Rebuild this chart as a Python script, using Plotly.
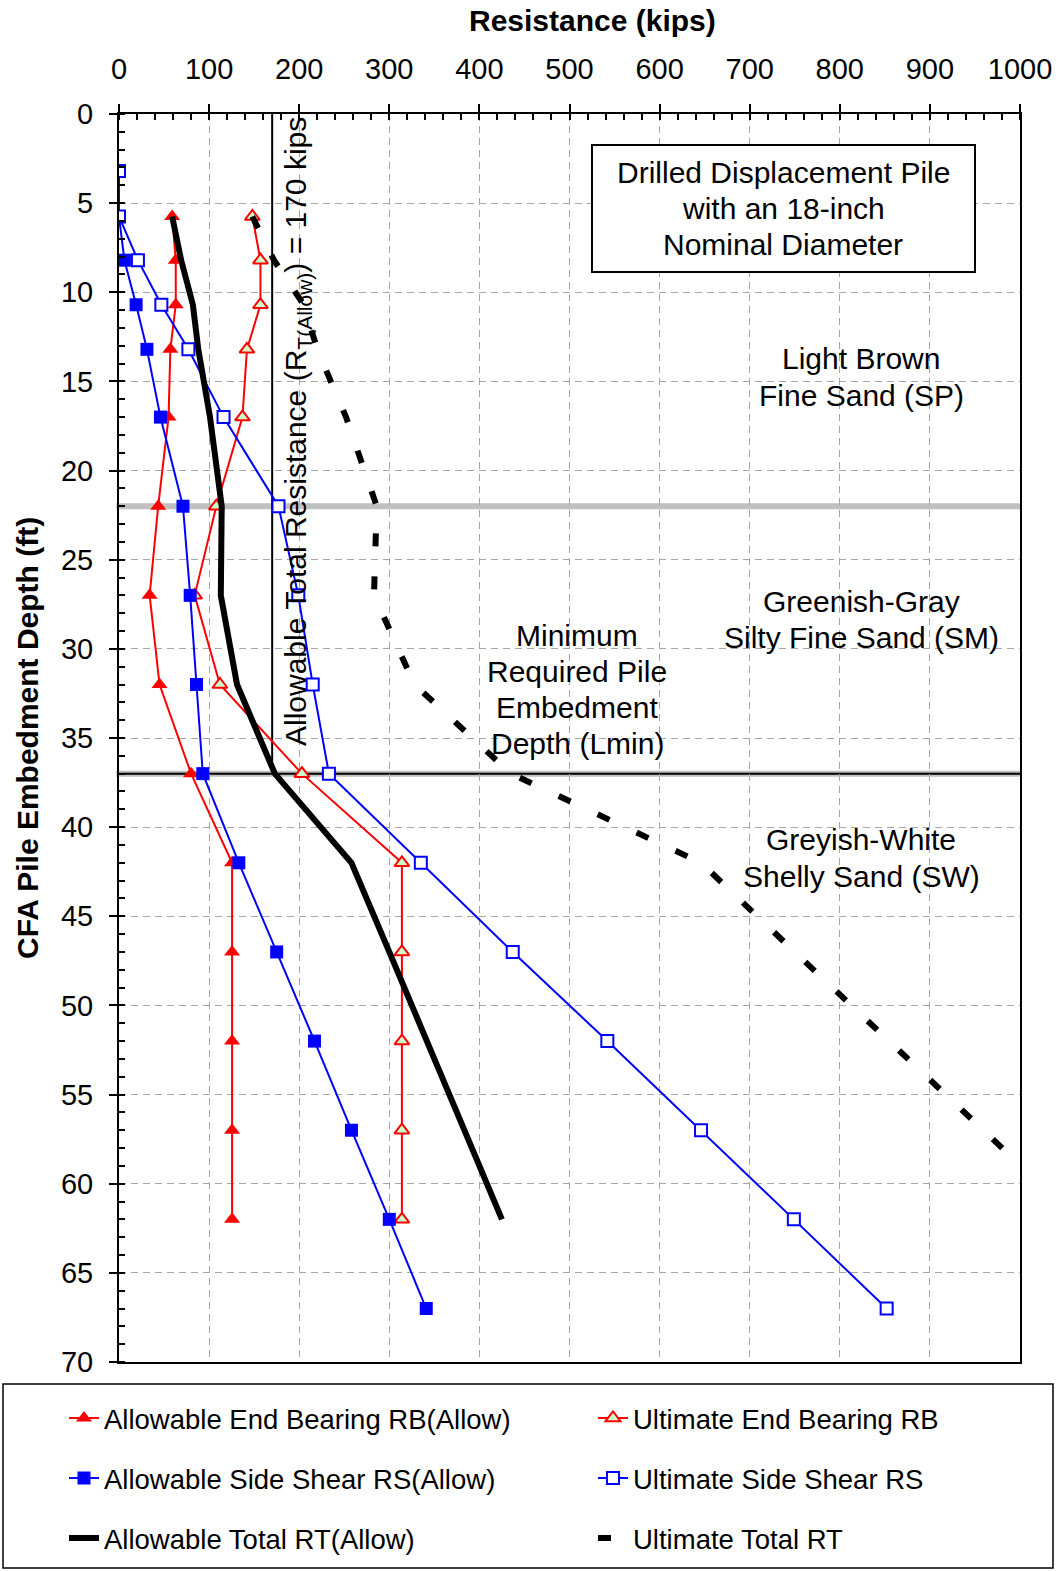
import plotly.graph_objects as go

# ---------------- data ----------------
depth_all = [3.2, 5.75, 8.2, 10.7, 13.2, 17, 22, 27, 32, 37, 42, 47, 52, 57, 62, 67]
depth_eb = [5.75, 8.2, 10.7, 13.2, 17, 22, 27, 32, 37, 42, 47, 52, 57, 62]

rb_allow = [59, 63, 63, 57, 55, 43.5, 34, 45, 80, 125.5, 125.5, 125.5, 125.5, 125.5]
rb_ult = [148, 157, 157, 142, 137, 108, 84, 112, 203, 314, 314, 314, 314, 314]
rs_allow = [0, 0, 6, 19, 31, 46, 71, 79, 86, 93, 133, 175, 217, 258, 300, 341]
rs_ult = [0, 0, 21, 47, 77, 116, 177, 199, 215, 233, 335, 437, 542, 646, 749, 852]
rt_allow = [59, 69, 82, 88, 101, 114, 113, 131, 173, 258, 300, 342, 383, 425]
rt_ult = [148, 172, 205, 220, 252, 286, 283, 328, 435, 646, 750, 855, 958, 1064]

allow_total_kips = 170
allow_line_depth = [0, 36.3]
layer_boundaries = [22, 37]

x_ticks = list(range(0, 1001, 100))
y_ticks = list(range(0, 71, 5))

FONT = "Arial, 'Liberation Sans', sans-serif"
W, H = 1061, 1571
ML, MR, MT, MB = 119, 41, 114, 209
PW, PH = W - ML - MR, H - MT - MB


def px_x(px):
    return (px - ML) / PW


def px_y(py):
    return (H - MB - py) / PH


def dx(px):  # pixel -> kips
    return (px - ML) / PW * 1000


def dy(py):  # pixel -> ft
    return (py - MT) / PH * 70


fig = go.Figure()

# series
fig.add_trace(go.Scatter(
    x=rb_allow, y=depth_eb, mode="lines+markers", name="Allowable End Bearing RB(Allow)",
    line=dict(color="#FF0000", width=2),
    marker=dict(symbol="triangle-up", size=14, color="#FF0000"),
    legend="legend"))
fig.add_trace(go.Scatter(
    x=rb_ult, y=depth_eb, mode="lines+markers", name="Ultimate End Bearing RB",
    line=dict(color="#FF0000", width=2),
    marker=dict(symbol="triangle-up", size=13, color="#CCFFCC",
                line=dict(color="#FF0000", width=2)),
    legend="legend2"))
fig.add_trace(go.Scatter(
    x=rs_allow, y=depth_all, mode="lines+markers", name="Allowable Side Shear RS(Allow)",
    line=dict(color="#0000FF", width=2),
    marker=dict(symbol="square", size=13, color="#0000FF"),
    legend="legend3"))
fig.add_trace(go.Scatter(
    x=rs_ult, y=depth_all, mode="lines+markers", name="Ultimate Side Shear RS",
    line=dict(color="#0000FF", width=2),
    marker=dict(symbol="square", size=12, color="white",
                line=dict(color="#0000FF", width=2)),
    legend="legend4"))
fig.add_trace(go.Scatter(
    x=rt_allow, y=depth_eb, mode="lines", name="Allowable Total RT(Allow)",
    line=dict(color="black", width=6),
    legend="legend5"))
fig.add_trace(go.Scatter(
    x=rt_ult, y=depth_eb, mode="lines", name="Ultimate Total RT",
    line=dict(color="black", width=6, dash="13px,30px"),
    legend="legend6"))

# layer boundary lines
shapes = []
for i, d in enumerate(layer_boundaries):
    shapes.append(dict(type="line", xref="paper", yref="y", x0=-0.003, x1=1,
                       y0=d, y1=d, line=dict(color="#C0C0C0", width=6), layer="between"))
shapes.append(dict(type="line", xref="paper", yref="y", x0=0, x1=1,
                   y0=layer_boundaries[1], y1=layer_boundaries[1],
                   line=dict(color="black", width=2), layer="between"))
# allowable total vertical line
shapes.append(dict(type="line", xref="x", yref="y", x0=allow_total_kips, x1=allow_total_kips,
                   y0=allow_line_depth[0], y1=allow_line_depth[1],
                   line=dict(color="black", width=2), layer="between"))
# info box
shapes.append(dict(type="rect", xref="x", yref="y", x0=dx(592), x1=dx(975), y0=dy(145), y1=dy(272),
                   line=dict(color="black", width=2), fillcolor="white", layer="between"))
# legend frame
shapes.append(dict(type="rect", xref="paper", yref="paper",
                   x0=px_x(3), x1=px_x(1053), y0=px_y(1568), y1=px_y(1384),
                   line=dict(color="black", width=1.5), fillcolor="rgba(0,0,0,0)"))

ann_font = dict(family=FONT, size=30, color="black")
annotations = []


def text_block(lines, cx, cy_list):
    for t, cy in zip(lines, cy_list):
        annotations.append(dict(x=dx(cx), y=dy(cy), xref="x", yref="y", showarrow=False,
                                xanchor="center", yanchor="middle", text=t, font=ann_font))


text_block(["Drilled Displacement Pile", "with an 18-inch", "Nominal Diameter"], 783, [172, 208, 244])
text_block(["Light Brown", "Fine Sand (SP)"], 861, [358, 395])
text_block(["Greenish-Gray", "Silty Fine Sand (SM)"], 861, [601, 637])
text_block(["Minimum", "Required Pile", "Embedment", "Depth (Lmin)"], 577, [635, 671, 707, 743])
text_block(["Greyish-White", "Shelly Sand (SW)"], 861, [839, 876])

annotations += [
    dict(x=dx(297), y=dy(432), xref="x", yref="y", showarrow=False, textangle=-90,
         xanchor="center", yanchor="middle",
         text="Allowable Total Resistance (R<sub>T(Allow)</sub>) = 170 kips", font=ann_font),
    # axis titles
    dict(x=px_x(592), y=px_y(20), xref="paper", yref="paper", showarrow=False,
         xanchor="center", yanchor="middle",
         text="<b>Resistance (kips)</b>", font=dict(family=FONT, size=30, color="black")),
    dict(x=px_x(27), y=0.5, xref="paper", yref="paper", showarrow=False, textangle=-90,
         xanchor="center", yanchor="middle",
         text="<b>CFA Pile Embedment Depth (ft)</b>", font=dict(family=FONT, size=30, color="black")),
]

axis_common = dict(
    showline=True, linecolor="black", linewidth=2, mirror=True,
    ticks="outside", ticklen=8, tickwidth=1.5, tickcolor="black",
    showgrid=True, gridcolor="#A6A6A6", gridwidth=1, griddash="7px,5px",
    zeroline=False, tickfont=dict(family=FONT, size=29, color="black"),
)

fig.update_layout(
    width=W, height=H,
    margin=dict(l=ML, r=MR, t=MT, b=MB, autoexpand=False),
    paper_bgcolor="white", plot_bgcolor="white",
    font=dict(family=FONT, color="black"),
    shapes=shapes, annotations=annotations,
    xaxis=dict(range=[0, 1000], side="top", tickvals=x_ticks,
               minor=dict(dtick=20, ticks="inside", ticklen=6, tickcolor="black", showgrid=False),
               ticklabelstandoff=13, **axis_common),
    yaxis=dict(range=[70, 0], tickvals=y_ticks,
               minor=dict(dtick=1, ticks="inside", ticklen=6, tickcolor="black", showgrid=False),
               ticklabelstandoff=10, **axis_common),
    showlegend=True,
)

leg_font = dict(family=FONT, size=27.5, color="black")
col_x = [px_x(64), px_x(593)]
row_y = [px_y(1418), px_y(1478), px_y(1538)]
legend_names = ["legend", "legend2", "legend3", "legend4", "legend5", "legend6"]
for i, ln in enumerate(legend_names):
    fig.update_layout(**{ln: dict(x=col_x[i % 2], y=row_y[i // 2], xanchor="left", yanchor="middle",
                                  orientation="h", font=leg_font, bgcolor="rgba(0,0,0,0)",
                                  borderwidth=0)})

fig.write_html("out.html", config={"displayModeBar": False},
               post_script="document.body.style.margin='0px';")
